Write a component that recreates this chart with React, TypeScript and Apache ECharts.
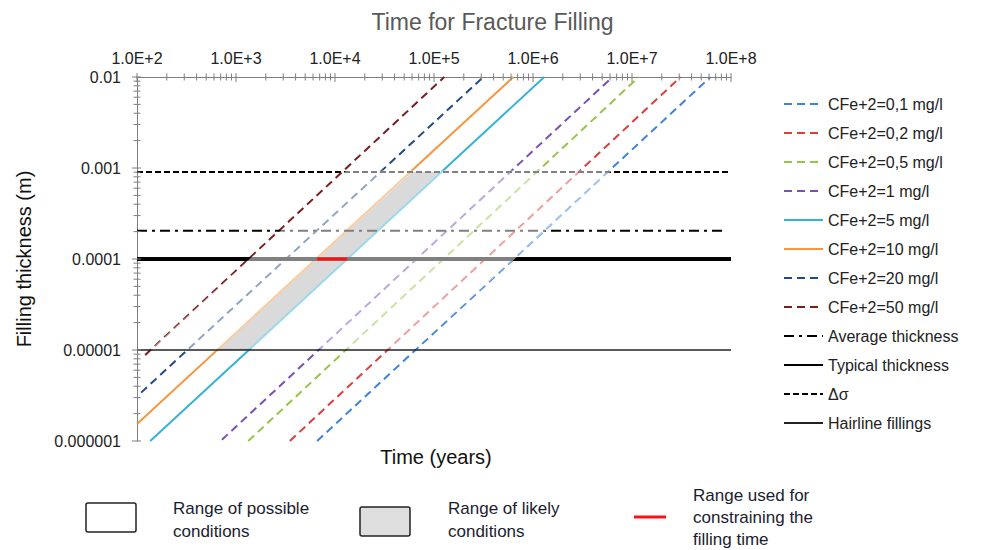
import React, { useEffect, useRef } from "react";
import * as echarts from "echarts";

const FONT = "Liberation Sans, Arial, Helvetica, sans-serif";

// Tick labels
const xTickLabels = ["1.0E+2", "1.0E+3", "1.0E+4", "1.0E+5", "1.0E+6", "1.0E+7", "1.0E+8"];
const yTickLabels = ["0.000001", "0.00001", "0.0001", "0.001", "0.01"];
const minorMultipliers = [2, 3, 4, 5, 6, 7, 8, 9];

// Concentration lines: [time (years), filling thickness (m)] endpoints
const c01 = [[6.6e3, 1e-6], [6.2e7, 1e-2]];
const c02 = [[3.5e3, 1e-6], [3.1e7, 1e-2]];
const c05 = [[1.33e3, 1e-6], [1.17e7, 1e-2]];
const c1 = [[720, 1.03e-6], [6.35e6, 1e-2]];
const c5 = [[136, 1e-6], [1.3e6, 1e-2]];
const c10 = [[100, 1.54e-6], [6.34e5, 1e-2]];
const c20 = [[110, 3.4e-6], [3.15e5, 1e-2]];
const c50 = [[121, 8.8e-6], [1.27e5, 1e-2]];

const concNames = [
  "CFe+2=0,1 mg/l",
  "CFe+2=0,2 mg/l",
  "CFe+2=0,5 mg/l",
  "CFe+2=1 mg/l",
  "CFe+2=5 mg/l",
  "CFe+2=10 mg/l",
  "CFe+2=20 mg/l",
  "CFe+2=50 mg/l",
];
const concData = [c01, c02, c05, c1, c5, c10, c20, c50];
const concColors = ["#3f83d9", "#dc3e3e", "#94c647", "#7a50b4", "#35b2d8", "#f7963f", "#1f4b86", "#7c1c1c"];
const concSolid = [false, false, false, false, true, true, false, false];

// Reference thickness lines
const averageThickness = [[100, 2.04e-4], [8.8e7, 2.04e-4]];
const typicalThickness = [[100, 1e-4], [1e8, 1e-4]];
const deltaSigma = [[100, 9.06e-4], [1e8, 9.06e-4]];
const hairline = [[100, 1e-5], [1e8, 1e-5]];

// Ranges
const likelyRange = [[655, 1e-5], [1350, 1e-5], [1.21e5, 9.06e-4], [6.0e4, 9.06e-4]];
const possibleRange = [[140, 1.03e-5], [6.5e4, 1.03e-5], [6.3e6, 9.4e-4], [1.3e4, 9.4e-4]];
const constrainRange = [[6.6e3, 1e-4], [1.33e4, 1e-4]];

const legendNames = [...concNames, "Average thickness", "Typical thickness", "Δσ", "Hairline fillings"];

export default function App() {
  const ref = useRef<HTMLDivElement>(null);

  useEffect(() => {
    if (!ref.current) return;
    const chart = echarts.init(ref.current, null, { renderer: "svg" });

    const concSeries = concData.map((d, i) => ({
      name: concNames[i],
      type: "line",
      data: d,
      symbol: "none",
      z: 2,
      silent: true,
      lineStyle: {
        color: concColors[i],
        width: 2,
        type: concSolid[i] ? "solid" : [8, 5],
      },
      itemStyle: { color: concColors[i], opacity: 0 },
    }));

    const hSeries = [
      { name: "Average thickness", data: averageThickness, lineStyle: { color: "#000", width: 2, type: [10, 5, 3, 5] } },
      { name: "Typical thickness", data: typicalThickness, lineStyle: { color: "#000", width: 4, type: "solid" } },
      { name: "Δσ", data: deltaSigma, lineStyle: { color: "#000", width: 2, type: [6, 3] } },
      { name: "Hairline fillings", data: hairline, lineStyle: { color: "#222", width: 1.5, type: "solid" } },
    ].map((s) => ({
      ...s,
      type: "line",
      symbol: "none",
      z: 2,
      silent: true,
      itemStyle: { color: s.lineStyle.color, opacity: 0 },
    }));

    const polygonSeries = (name: string, verts: number[][], fill: string, opacity: number, z: number) => ({
      name,
      type: "custom",
      silent: true,
      z,
      data: [verts[0]],
      renderItem: (_params: any, api: any) => ({
        type: "polygon",
        shape: { points: verts.map((v) => api.coord(v)) },
        style: { fill, opacity },
      }),
    });

    const tickSeries = {
      name: "ticks",
      type: "custom",
      silent: true,
      z: 10,
      clip: false,
      data: [[100, 0.01]],
      renderItem: (_params: any, api: any) => {
        const children: any[] = [];
        const st = { stroke: "#7f7f7f", lineWidth: 1 };
        for (let e = 2; e <= 8; e++) {
          const p = api.coord([Math.pow(10, e), 0.01]);
          children.push({ type: "line", shape: { x1: p[0], y1: p[1] - 4, x2: p[0], y2: p[1] + 5 }, style: st });
          if (e < 8)
            minorMultipliers.forEach((m) => {
              const q = api.coord([m * Math.pow(10, e), 0.01]);
              children.push({ type: "line", shape: { x1: q[0], y1: q[1] - 3.5, x2: q[0], y2: q[1] + 3.5 }, style: st });
            });
        }
        for (let e = -6; e <= -2; e++) {
          const p = api.coord([100, Math.pow(10, e)]);
          children.push({ type: "line", shape: { x1: p[0] - 5, y1: p[1], x2: p[0] + 4, y2: p[1] }, style: st });
          if (e < -2)
            minorMultipliers.forEach((m) => {
              const q = api.coord([100, m * Math.pow(10, e)]);
              children.push({ type: "line", shape: { x1: q[0] - 3.5, y1: q[1], x2: q[0] + 3.5, y2: q[1] }, style: st });
            });
        }
        return { type: "group", children };
      },
    };

    const option: any = {
      animation: false,
      backgroundColor: "#fff",
      title: {
        text: "Time for Fracture Filling",
        left: "center",
        top: 5,
        textStyle: { fontFamily: FONT, fontSize: 23, fontWeight: "normal", color: "#595959" },
      },
      grid: { left: 137, right: 254, top: 77, bottom: 109 },
      xAxis: {
        type: "log",
        logBase: 10,
        position: "top",
        min: 100,
        max: 1e8,
        interval: 1,
        axisLine: { show: true, lineStyle: { color: "#7f7f7f", width: 1 } },
        axisTick: { show: false },
        splitLine: { show: false },
        minorTick: { show: false },
        axisLabel: {
          margin: 11,
          fontFamily: FONT,
          fontSize: 16,
          color: "#222",
          formatter: (v: number) => xTickLabels[Math.round(Math.log10(v)) - 2] ?? "",
        },
      },
      yAxis: {
        type: "log",
        logBase: 10,
        min: 1e-6,
        max: 1e-2,
        interval: 1,
        axisLine: { show: true, lineStyle: { color: "#7f7f7f", width: 1 } },
        axisTick: { show: false },
        splitLine: { show: false },
        minorTick: { show: false },
        axisLabel: {
          margin: 16,
          fontFamily: FONT,
          fontSize: 16,
          color: "#222",
          formatter: (v: number) => yTickLabels[Math.round(Math.log10(v)) + 6] ?? "",
        },
      },
      legend: {
        orient: "vertical",
        left: 778,
        top: 91,
        itemWidth: 39,
        itemHeight: 14,
        itemGap: 13,
        selectedMode: false,
        data: legendNames,
        itemStyle: { opacity: 0 },
        textStyle: { fontFamily: FONT, fontSize: 16, color: "#222" },
      },
      graphic: [
        {
          type: "text",
          x: 436,
          y: 457,
          style: {
            text: "Time (years)",
            fontFamily: FONT,
            fontSize: 20,
            fill: "#111",
            textAlign: "center",
            textVerticalAlign: "middle",
          },
        },
        {
          type: "text",
          x: 24,
          y: 259,
          rotation: Math.PI / 2,
          style: {
            text: "Filling thickness (m)",
            fontFamily: FONT,
            fontSize: 20,
            fill: "#111",
            textAlign: "center",
            textVerticalAlign: "middle",
          },
        },
        {
          type: "rect",
          shape: { x: 86, y: 503, width: 50, height: 29, r: 2 },
          style: { fill: "#fff", stroke: "#222", lineWidth: 1.5 },
        },
        {
          type: "text",
          x: 173,
          y: 497,
          style: {
            text: "Range of possible\nconditions",
            fontFamily: FONT,
            fontSize: 17,
            lineHeight: 23,
            fill: "#1c1c30",
          },
        },
        {
          type: "rect",
          shape: { x: 360, y: 507, width: 50, height: 29, r: 2 },
          style: { fill: "#dedede", stroke: "#222", lineWidth: 1.5 },
        },
        {
          type: "text",
          x: 448,
          y: 497,
          style: {
            text: "Range of likely\nconditions",
            fontFamily: FONT,
            fontSize: 17,
            lineHeight: 23,
            fill: "#1c1c30",
          },
        },
        {
          type: "line",
          shape: { x1: 634, y1: 517, x2: 666, y2: 517 },
          style: { stroke: "#ff1010", lineWidth: 3 },
        },
        {
          type: "text",
          x: 693,
          y: 484,
          style: {
            text: "Range used for\nconstraining the\nfilling time",
            fontFamily: FONT,
            fontSize: 17,
            lineHeight: 22,
            fill: "#1c1c30",
          },
        },
      ],
      series: [
        polygonSeries("likely", likelyRange, "#b5b5b5", 1, 1),
        ...concSeries,
        ...hSeries,
        polygonSeries("possible", possibleRange, "#ffffff", 0.5, 3),
        {
          name: "constrain",
          type: "line",
          data: constrainRange,
          symbol: "none",
          silent: true,
          z: 4,
          lineStyle: { color: "#ff1010", width: 3 },
        },
        tickSeries,
      ],
    };

    chart.setOption(option);
    return () => chart.dispose();
  }, []);

  return (
    <div
      ref={ref}
      style={{ position: "fixed", left: 0, top: 0, width: 985, height: 550, background: "#fff" }}
    />
  );
}
